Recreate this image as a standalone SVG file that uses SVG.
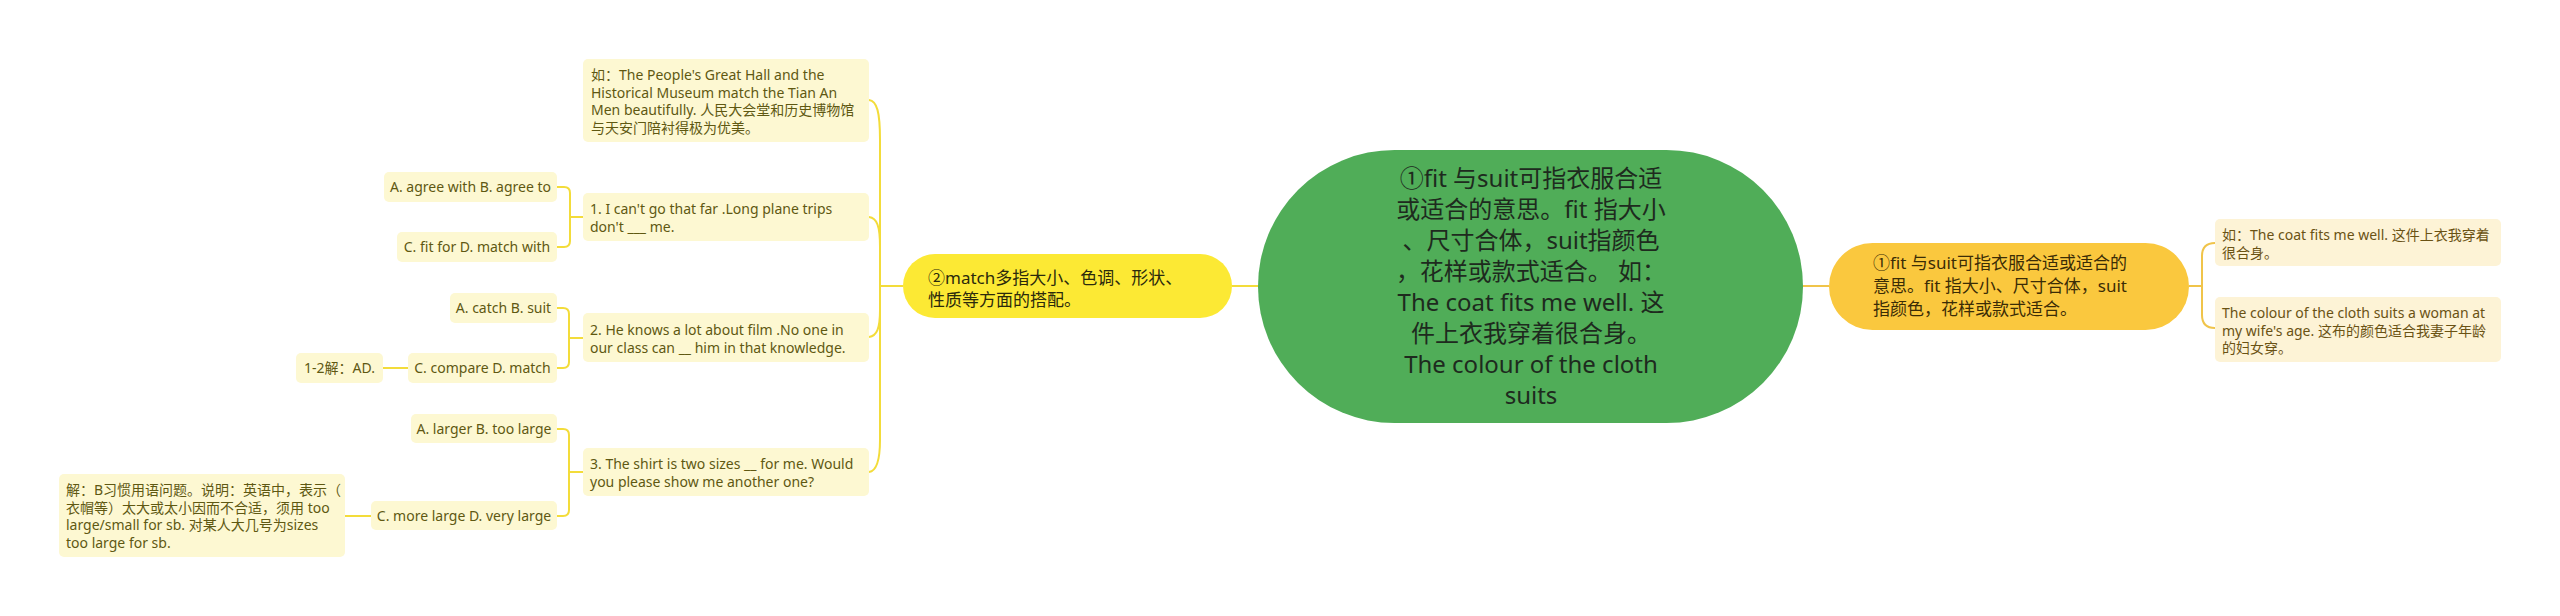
<svg xmlns="http://www.w3.org/2000/svg" width="2560" height="616" viewBox="0 0 2560 616">
<style>
text{font-family:"Noto Sans","Noto Sans CJK SC",sans-serif;}
.leafL{fill:#fdf8d2;}
.leafR{fill:#fdf3d6;}
.tl{font-size:14px;fill:#5f5812;}
.tr{font-size:14px;fill:#6a5214;}
.c{text-anchor:middle;}
.cl{fill:none;stroke:#f3dc3a;stroke-width:2;}
.cr{fill:none;stroke:#f0c44a;stroke-width:2;}
</style>
<rect width="2560" height="616" fill="#ffffff"/>
<g id="connectors">
<path class="cl" d="M1232 286 H1258"/>
<path class="cr" d="M1803 286 H1829"/>
<path class="cr" d="M2189 286 H2202"/>
<path class="cr" d="M2215 243 Q2202 243 2202 256 V315 Q2202 328 2215 328"/>
<path class="cl" d="M903 286 H880"/>
<path class="cl" d="M869 100 C877 101 880 112 880 140 V286"/>
<path class="cl" d="M869 217 C877 218 880 226 880 247 V286"/>
<path class="cl" d="M869 337 C877 336 880 328 880 310 V286"/>
<path class="cl" d="M869 472 C877 471 880 460 880 440 V286"/>
<path class="cl" d="M583 217 H570"/>
<path class="cl" d="M557 187 H564 Q570 187 570 193 V241 Q570 247 564 247 H557"/>
<path class="cl" d="M583 338 H569"/>
<path class="cl" d="M557 308 H563 Q569 308 569 314 V362 Q569 368 563 368 H557"/>
<path class="cl" d="M383 368 H408"/>
<path class="cl" d="M583 472 H569"/>
<path class="cl" d="M557 429 H563 Q569 429 569 435 V510 Q569 516 563 516 H557"/>
<path class="cl" d="M345 516 H371"/>
</g>
<g id="central">
<rect x="1258" y="150" width="545" height="273" rx="136.5" fill="#50ad58"/>
<g font-size="24" fill="#1e2a1e" text-anchor="middle">
<text x="1531" y="187">①fit 与suit可指衣服合适</text>
<text x="1531" y="218">或适合的意思。fit 指大小</text>
<text x="1531" y="249">、尺寸合体，suit指颜色</text>
<text x="1531" y="280">，花样或款式适合。 如：</text>
<text x="1531" y="311">The coat fits me well. 这</text>
<text x="1531" y="342">件上衣我穿着很合身。</text>
<text x="1531" y="373">The colour of the cloth</text>
<text x="1531" y="404">suits</text>
</g>
</g>
<g id="match">
<rect x="903" y="254" width="329" height="64" rx="32" fill="#fce934"/>
<g font-size="17" fill="#2b2a0c">
<text x="928" y="284">②match多指大小、色调、形状、</text>
<text x="928" y="306">性质等方面的搭配。</text>
</g>
</g>
<g id="fit">
<rect x="1829" y="243" width="360" height="87" rx="43.5" fill="#fac83e"/>
<g font-size="17" fill="#3a2c06">
<text x="1873" y="269">①fit 与suit可指衣服合适或适合的</text>
<text x="1873" y="292">意思。fit 指大小、尺寸合体，suit</text>
<text x="1873" y="315">指颜色，花样或款式适合。</text>
</g>
</g>
<g id="fit-ex1">
<rect class="leafR" x="2215" y="219" width="286" height="47" rx="5"/>
<text class="tr" x="2222" y="240">如：The coat fits me well. 这件上衣我穿着</text>
<text class="tr" x="2222" y="258">很合身。</text>
</g>
<g id="fit-ex2">
<rect class="leafR" x="2215" y="297" width="286" height="65" rx="5"/>
<text class="tr" x="2222" y="318">The colour of the cloth suits a woman at</text>
<text class="tr" x="2222" y="336">my wife's age. 这布的颜色适合我妻子年龄</text>
<text class="tr" x="2222" y="353">的妇女穿。</text>
</g>
<g id="match-ex">
<rect class="leafL" x="583" y="59" width="286" height="83" rx="5"/>
<text class="tl" x="591" y="80">如：The People's Great Hall and the</text>
<text class="tl" x="591" y="97.5">Historical Museum match the Tian An</text>
<text class="tl" x="591" y="115">Men beautifully. 人民大会堂和历史博物馆</text>
<text class="tl" x="591" y="132.5">与天安门陪衬得极为优美。</text>
</g>
<g id="q1">
<rect class="leafL" x="583" y="193" width="286" height="48" rx="5"/>
<text class="tl" x="590" y="214">1. I can't go that far .Long plane trips</text>
<text class="tl" x="590" y="232">don't ___ me.</text>
</g>
<g id="q1-ab">
<rect class="leafL" x="384" y="172" width="173" height="30" rx="5"/>
<text class="tl c" x="470.5" y="192">A. agree with B. agree to</text>
</g>
<g id="q1-cd">
<rect class="leafL" x="397" y="232" width="160" height="30" rx="5"/>
<text class="tl c" x="477" y="252">C. fit for D. match with</text>
</g>
<g id="q2">
<rect class="leafL" x="583" y="313" width="286" height="49" rx="5"/>
<text class="tl" x="590" y="335">2. He knows a lot about film .No one in</text>
<text class="tl" x="590" y="353">our class can __ him in that knowledge.</text>
</g>
<g id="q2-ab">
<rect class="leafL" x="450" y="293" width="107" height="30" rx="5"/>
<text class="tl c" x="503.5" y="313">A. catch B. suit</text>
</g>
<g id="q2-cd">
<rect class="leafL" x="408" y="353" width="149" height="30" rx="5"/>
<text class="tl c" x="482.5" y="373">C. compare D. match</text>
</g>
<g id="q12-ans">
<rect class="leafL" x="296" y="353" width="87" height="30" rx="5"/>
<text class="tl c" x="339.5" y="373">1-2解：AD.</text>
</g>
<g id="q3">
<rect class="leafL" x="583" y="448" width="286" height="48" rx="5"/>
<text class="tl" x="590" y="469">3. The shirt is two sizes __ for me. Would</text>
<text class="tl" x="590" y="487">you please show me another one?</text>
</g>
<g id="q3-ab">
<rect class="leafL" x="411" y="414" width="146" height="29" rx="5"/>
<text class="tl c" x="484" y="434">A. larger B. too large</text>
</g>
<g id="q3-cd">
<rect class="leafL" x="371" y="501" width="186" height="29" rx="5"/>
<text class="tl c" x="464" y="521">C. more large D. very large</text>
</g>
<g id="q3-ans">
<rect class="leafL" x="59" y="474" width="286" height="83" rx="5"/>
<text class="tl" x="66" y="495">解：B习惯用语问题。说明：英语中，表示（</text>
<text class="tl" x="66" y="512.5">衣帽等）太大或太小因而不合适，须用 too</text>
<text class="tl" x="66" y="530">large/small for sb. 对某人大几号为sizes</text>
<text class="tl" x="66" y="547.5">too large for sb.</text>
</g>
</svg>
